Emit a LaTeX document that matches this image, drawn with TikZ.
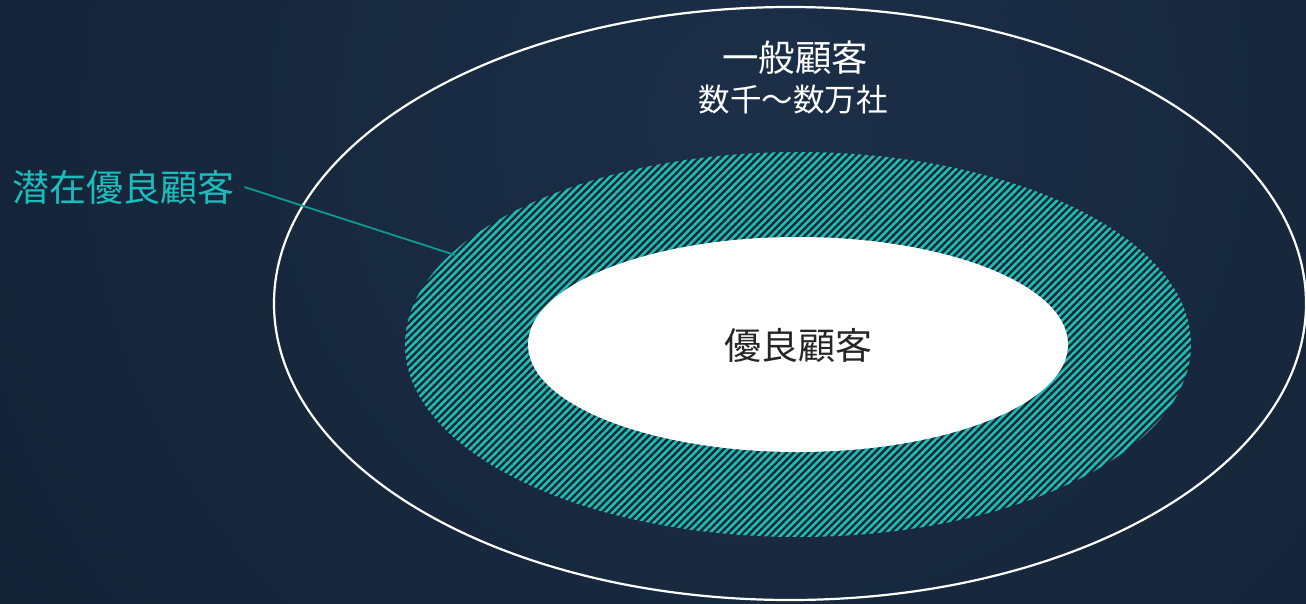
\documentclass[tikz,border=0pt]{standalone}
\usepackage{fontspec}
\newfontfamily\cjk{Noto Sans CJK JP}
\usetikzlibrary{patterns.meta}
\definecolor{bgin}{HTML}{1C2F48}
\definecolor{bgout}{HTML}{0E1B2A}
\definecolor{teal1}{HTML}{1ABCBC}
\definecolor{tealline}{HTML}{0E9A92}
\definecolor{hatchbg}{HTML}{1E262C}
\tikzset{
  ring/.style={draw=white, line width=2.2pt},
  hatched/.style={pattern={Lines[angle=45,distance=5.2pt,line width=2.6pt]}, pattern color=teal1},
  core/.style={fill=white},
  wlabel/.style={text=white, font=\cjk, inner sep=0pt},
  tlabel/.style={text=teal1, font=\cjk, inner sep=0pt},
  leader/.style={draw=tealline, line width=1.8pt}
}
\begin{document}
\begin{tikzpicture}[x=1pt,y=-1pt]
\useasboundingbox (0,0) rectangle (1306,603);
\begin{scope}
\clip (0,0) rectangle (1306,603);
\shade[inner color=bgin, outer color=bgout] (760,120) circle (1500);
\end{scope}
\draw[ring] (790,303.5) ellipse (516 and 296.5);
\fill[hatchbg] (798,344.5) ellipse (393 and 192.5);
\fill[hatched] (798,344.5) ellipse (393 and 192.5);
\fill[core] (798,344.5) ellipse (270 and 107.5);
\coordinate (hatchedge) at (455,255);
\node[wlabel, font=\cjk\fontsize{36.5}{40}\selectfont] (general) at (795,58) {一般顧客};
\node[wlabel, font=\cjk\fontsize{31.5}{36}\selectfont] (count) at (793,100) {数千～数万社};
\node[text=black!85, font=\cjk\fontsize{37}{40}\selectfont, inner sep=0pt] (good) at (798,345) {優良顧客};
\node[tlabel, font=\cjk\fontsize{37}{40}\selectfont, anchor=west] (potential) at (12,187) {潜在優良顧客};
\draw[leader] ([xshift=10pt]potential.east) -- (hatchedge);
\end{tikzpicture}
\end{document}
